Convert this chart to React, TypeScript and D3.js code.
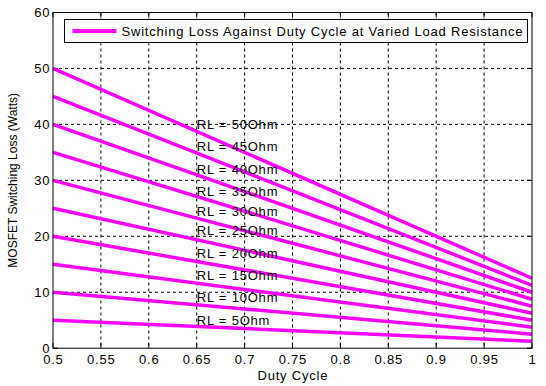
import React from "react";
import * as d3 from "d3";

const loadResistances = [5, 10, 15, 20, 25, 30, 35, 40, 45, 50];
const dutyPoints = [0.5, 1.0];
const lossAtStart = [5, 10, 15, 20, 25, 30, 35, 40, 45, 50];
const lossAtEnd = [1.25, 2.5, 3.75, 5, 6.25, 7.5, 8.75, 10, 11.25, 12.5];
const labelY = [5, 9, 13, 17, 21, 24.5, 28, 32, 36, 40];
const labelX = 0.65;
const xTicks = [0.5, 0.55, 0.6, 0.65, 0.7, 0.75, 0.8, 0.85, 0.9, 0.95, 1];
const yTicks = [0, 10, 20, 30, 40, 50, 60];
const legendText = "Switching Loss Against Duty Cycle at Varied Load Resistance";
const xTitle = "Duty Cycle";
const yTitle = "MOSFET Switching Loss (Watts)";

const W = 546, H = 386;
const L = 53, R = 532, T = 12.5, B = 348.2;
const FONT = "'Liberation Sans', Arial, sans-serif";
const MAGENTA = "#ff00ff";
const LS = 0.8;

export default function App() {
  const x = d3.scaleLinear().domain([0.5, 1]).range([L, R]);
  const y = d3.scaleLinear().domain([0, 60]).range([B, T]);
  const line = d3.line<[number, number]>().x(d => x(d[0])).y(d => y(d[1]));
  const series = loadResistances.map((rl, i) => ({
    rl,
    pts: [[dutyPoints[0], lossAtStart[i]], [dutyPoints[1], lossAtEnd[i]]] as [number, number][],
  }));
  return (
    <svg width={W} height={H} style={{ position: "fixed", left: 0, top: 0, background: "#fff" }} fontFamily={FONT}>
      <rect x={0} y={0} width={W} height={H} fill="#fff" />
      {/* grid */}
      {xTicks.slice(1, -1).map(t => (
        <line key={"gx" + t} x1={x(t)} x2={x(t)} y1={T} y2={B} stroke="#000" strokeWidth={1} strokeDasharray="3,3" />
      ))}
      {yTicks.slice(1, -1).map(t => (
        <line key={"gy" + t} x1={L} x2={R} y1={y(t)} y2={y(t)} stroke="#000" strokeWidth={1} strokeDasharray="3,3" />
      ))}
      {/* ticks */}
      {xTicks.map(t => (
        <g key={"tx" + t}>
          <line x1={x(t)} x2={x(t)} y1={B} y2={B - 5} stroke="#000" />
          <line x1={x(t)} x2={x(t)} y1={T} y2={T + 5} stroke="#000" />
          <text x={x(t) + LS / 2} y={B + 16} fontSize={13} letterSpacing={LS} textAnchor="middle" fill="#000">{String(t)}</text>
        </g>
      ))}
      {yTicks.map(t => (
        <g key={"ty" + t}>
          <line x1={L} x2={L + 5} y1={y(t)} y2={y(t)} stroke="#000" />
          <line x1={R} x2={R - 5} y1={y(t)} y2={y(t)} stroke="#000" />
          <text x={L - 3.5 + LS} y={y(t) + 4.5} fontSize={13} letterSpacing={LS} textAnchor="end" fill="#000">{String(t)}</text>
        </g>
      ))}
      {/* series */}
      {series.map(s => (
        <path key={s.rl} d={line(s.pts) || ""} fill="none" stroke={MAGENTA} strokeWidth={3.5} />
      ))}
      {series.map((s, i) => (
        <text key={"l" + s.rl} x={x(labelX)} y={y(labelY[i]) + 4.5} fontSize={13} letterSpacing={LS} fill="#000">{`RL = ${s.rl}Ohm`}</text>
      ))}
      {/* box */}
      <rect x={L} y={T} width={R - L} height={B - T} fill="none" stroke="#000" strokeWidth={1} />
      {/* legend */}
      <rect x={64.5} y={19.5} width={463} height={23} fill="#fff" stroke="#000" strokeWidth={1} />
      <line x1={72.5} x2={116.5} y1={31} y2={31} stroke={MAGENTA} strokeWidth={4} />
      <text x={121.5} y={35.5} fontSize={13} letterSpacing={LS} fill="#000">{legendText}</text>
      {/* titles */}
      <text x={(L + R) / 2 + LS / 2} y={380} fontSize={13} letterSpacing={LS} textAnchor="middle" fill="#000">{xTitle}</text>
      <text transform={`translate(17,${(T + B) / 2}) rotate(-90)`} fontSize={12} textAnchor="middle" fill="#000">{yTitle}</text>
    </svg>
  );
}
